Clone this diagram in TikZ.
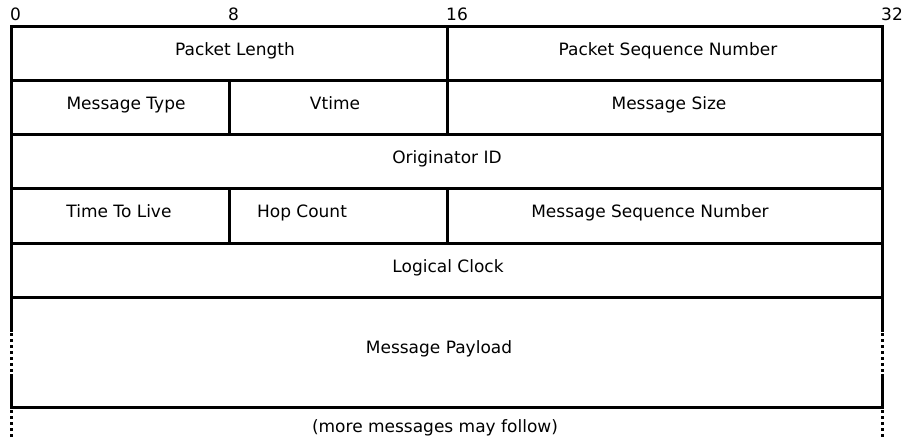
\documentclass[tikz,border=0pt]{standalone}
\usepackage{fontspec}
\setmainfont{DejaVu Sans}
\begin{document}
\begin{tikzpicture}[x=1pt,y=-1pt,
  frame/.style={line width=3pt,line cap=rect},
  dots/.style={line width=3pt,dash pattern=on 3pt off 3pt},
  lbl/.style={anchor=base,inner sep=0pt,font=\fontsize{17}{20}\selectfont},
  num/.style={anchor=base west,inner sep=0pt,font=\fontsize{17}{20}\selectfont}]
\useasboundingbox (0,0) rectangle (906,440);
% bit numbers
\node[num] (n0) at (10,20) {0};
\node[num] (n8) at (228,20) {8};
\node[num] (n16) at (446,20) {16};
\node[num] (n32) at (881,20) {32};
% horizontal lines
\foreach \y in {26,80,134,188,243,297,407}
  \draw[frame] (11,\y) -- (882,\y);
% outer verticals
\draw[frame] (11,26) -- (11,330);
\draw[frame] (882,26) -- (882,330);
\draw[frame] (11,375) -- (11,407);
\draw[frame] (882,375) -- (882,407);
\draw[dots] (11,333) -- (11,373);
\draw[dots] (882,333) -- (882,373);
\draw[dots] (11,410) -- (11,437);
\draw[dots] (882,410) -- (882,437);
% inner verticals
\draw[frame] (447,26) -- (447,134);
\draw[frame] (447,188) -- (447,243);
\draw[frame] (229,80) -- (229,134);
\draw[frame] (229,188) -- (229,243);
% labels
\node[lbl] (pl) at (235,55) {Packet Length};
\node[lbl] (psn) at (668,55) {Packet Sequence Number};
\node[lbl] (mt) at (126,109) {Message Type};
\node[lbl] (vt) at (335,109) {Vtime};
\node[lbl] (ms) at (669,109) {Message Size};
\node[lbl] (oid) at (447,163) {Originator ID};
\node[lbl] (ttl) at (119,217) {Time To Live};
\node[lbl] (hc) at (302,217) {Hop Count};
\node[lbl] (msn) at (650,217) {Message Sequence Number};
\node[lbl] (lc) at (448,272) {Logical Clock};
\node[lbl] (mp) at (439,353) {Message Payload};
\node[lbl] (more) at (435,432) {(more messages may follow)};
\end{tikzpicture}
\end{document}
